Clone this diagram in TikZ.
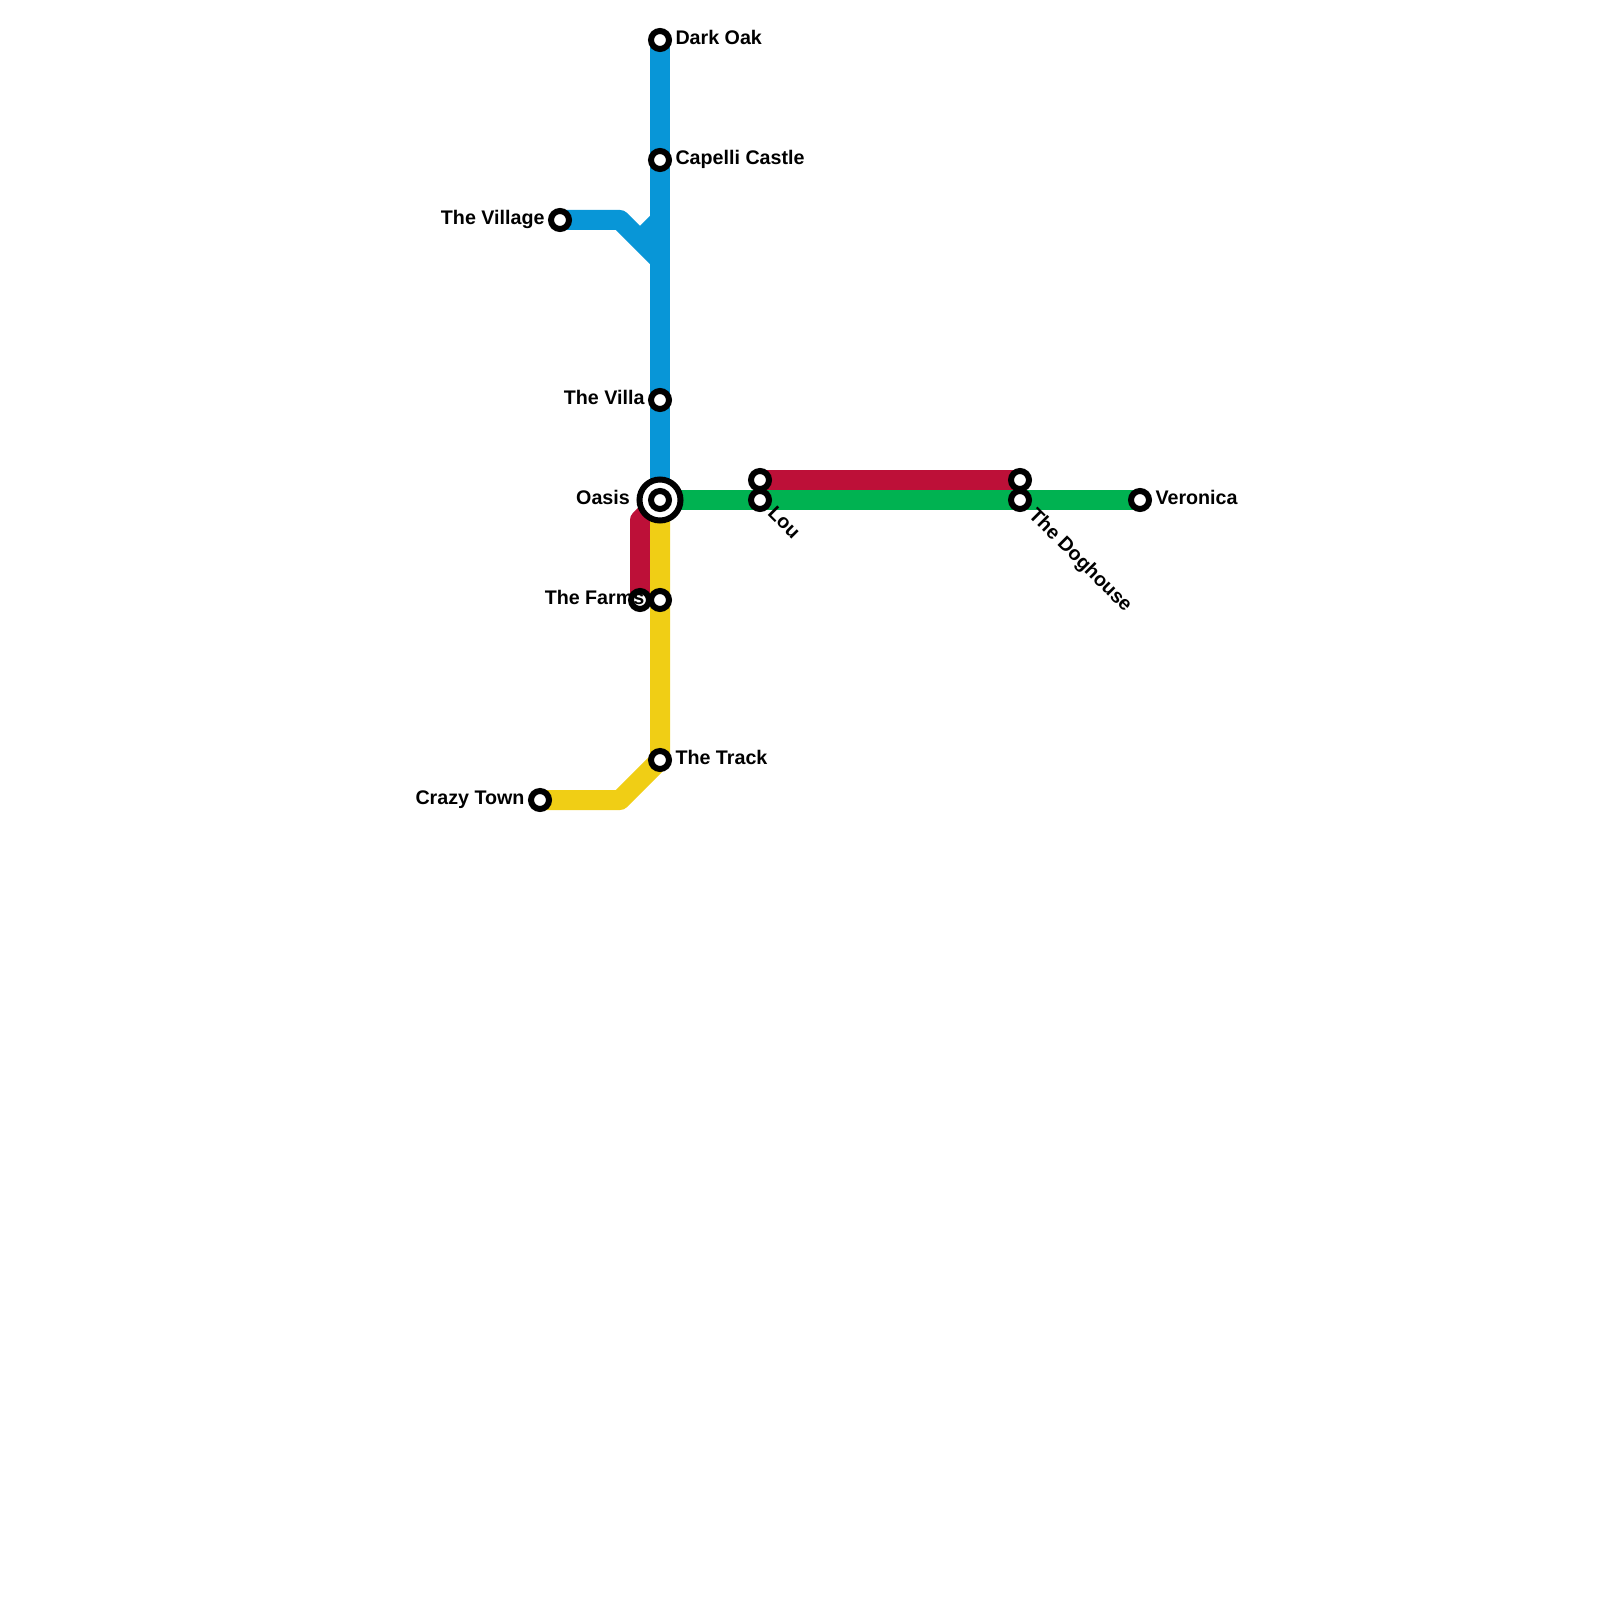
\documentclass[tikz,border=0pt]{standalone}
\usepackage{fontspec}
\setmainfont{Liberation Sans}
\usetikzlibrary{positioning,backgrounds}
\definecolor{lineblue}{HTML}{0896D7}
\definecolor{linegreen}{HTML}{00B251}
\definecolor{linered}{HTML}{BD1038}
\definecolor{lineyellow}{HTML}{F0CE15}
\tikzset{
  run/.style={line width=2mm, line join=round},
  stn/.style={circle, draw=black, fill=white, line width=0.6mm, inner sep=0pt, minimum size=1.8mm},
  bigstn/.style={circle, draw=black, fill=white, line width=0.6mm, inner sep=0pt, minimum size=4.1mm},
  lbl/.style={font=\bfseries\fontsize{5.6pt}{6pt}\selectfont, inner sep=0pt, text height=1.45mm, text depth=0.4mm, yshift=0.04mm},
  slantlbl/.style={font=\bfseries\fontsize{5.6pt}{6pt}\selectfont, inner sep=0pt, rotate=-45, anchor=west}
}
\begin{document}
\begin{tikzpicture}[x=1mm,y=-1mm]
  \useasboundingbox (0,0) rectangle (160,160);
  % stations
  \node[stn] (darkoak) at (66,4) {};
  \node[stn] (capelli) at (66,16) {};
  \node[stn] (village) at (56,22) {};
  \node[stn] (villa) at (66,40) {};
  \node[bigstn] (oasis) at (66,50) {};
  \node[stn] (oasisin) at (66,50) {};
  \node[stn] (farmsred) at (64,60) {};
  \node[stn] (farms) at (66,60) {};
  \node[stn] (track) at (66,76) {};
  \node[stn] (crazy) at (54,80) {};
  \node[stn] (lou) at (76,50) {};
  \node[stn] (louup) at (76,48) {};
  \node[stn] (dog) at (102,50) {};
  \node[stn] (dogup) at (102,48) {};
  \node[stn] (veronica) at (114,50) {};
  % bends
  \coordinate (bendv) at (62,22);
  \coordinate (joinv) at (66,26);
  \coordinate (notcha) at (64,24);
  \coordinate (notchb) at (66,22);
  \coordinate (bendr) at (64,52);
  \coordinate (bendy) at (62,80);
  % lines
  \begin{scope}[on background layer]
    \draw[run,lineblue] (darkoak.center) -- (oasis.center);
    \draw[run,lineblue] (village.center) -- (bendv) -- (joinv);
    \draw[run,lineblue] (notcha) -- (notchb);
    \draw[run,linered] (farmsred.center) -- (bendr) -- (oasis.center);
    \draw[run,linered] (louup.center) -- (dogup.center);
    \draw[run,linegreen] (oasis.center) -- (veronica.center);
    \draw[run,lineyellow] (oasis.center) -- (track.center) -- (bendy) -- (crazy.center);
  \end{scope}
  % labels
  \node[lbl,right=0.28mm of darkoak] (tdarkoak) {Dark Oak};
  \node[lbl,right=0.28mm of capelli] (tcapelli) {Capelli Castle};
  \node[lbl,left=0.28mm of village] (tvillage) {The Village};
  \node[lbl,left=0.28mm of villa] (tvilla) {The Villa};
  \node[lbl,left=0.6mm of oasis] (toasis) {Oasis};
  \node[lbl,left=0.3mm of farms] (tfarms) {The Farms};
  \node[lbl,right=0.28mm of track] (ttrack) {The Track};
  \node[lbl,left=0.28mm of crazy] (tcrazy) {Crazy Town};
  \node[lbl,right=0.28mm of veronica] (tveronica) {Veronica};
  \node[slantlbl] (tlou) at (77.1,50.9) {Lou};
  \node[slantlbl] (tdog) at (103.1,51.2) {The Doghouse};
\end{tikzpicture}
\end{document}
